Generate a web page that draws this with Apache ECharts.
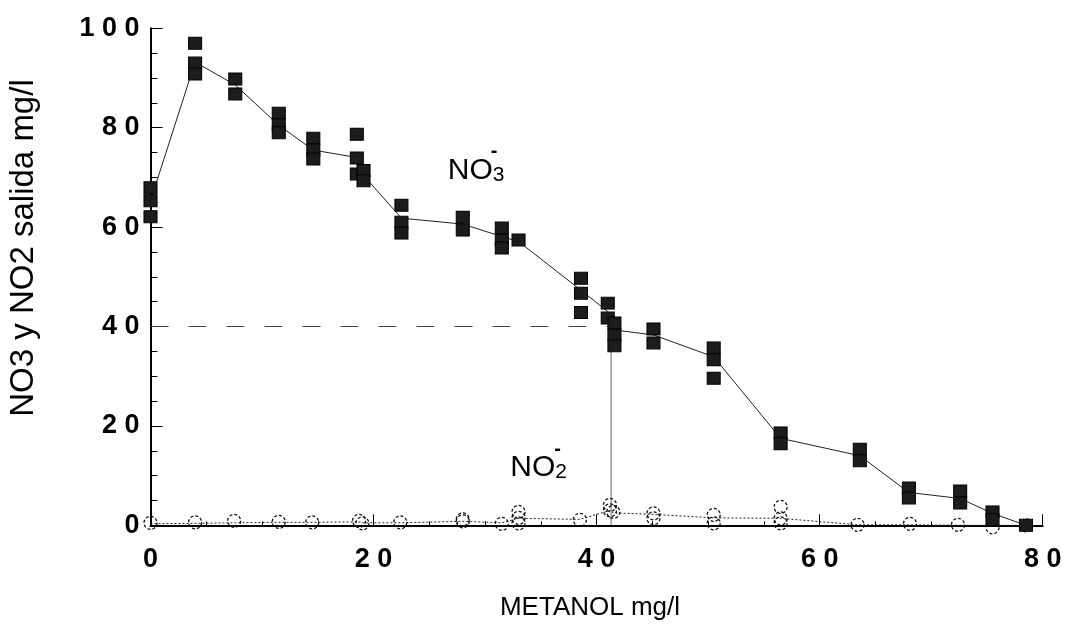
<!DOCTYPE html>
<html>
<head>
<meta charset="utf-8">
<script src="https://cdn.jsdelivr.net/npm/echarts@6/dist/echarts.min.js"></script>
<style>html,body{margin:0;padding:0;background:#fff}#c{width:1069px;height:628px}</style>
</head>
<body>
<div id="c"></div>
<script>
// ---- data ----
const xTitle = 'METANOL mg/l';
const yTitle = 'NO3 y NO2 salida mg/l';

// NO3- replicates (squares)
const no3Dose = [0, 4, 7.6, 11.5, 14.6, 18.5, 19.1, 22.5, 28, 31.5, 33, 38.6, 41, 41.6, 45.1, 50.5, 56.5, 63.6, 68, 72.6, 75.5, 78.5];
const no3Rep = [
  [67.9, 65.3, 62.1], [97.0, 93.0, 90.8], [89.8, 86.8], [82.9, 80.6, 79.0], [77.9, 75.5, 73.7],
  [78.7, 73.9, 70.7], [71.4, 69.3], [64.4, 61.0, 58.8], [62.0, 59.4], [59.8, 57.4, 55.8],
  [57.4], [49.7, 46.7, 42.8], [44.7, 41.7], [40.7, 38.3, 36.1], [39.5, 36.7],
  [35.7, 33.3, 29.6], [18.6, 16.4], [15.3, 13.0], [7.5, 5.5], [6.9, 4.5], [2.7, 1.1], [0]
];
// NO3- connecting line
const no3Line = [65.3, 93.2, 88.6, 80.5, 75.5, 74.0, 70.4, 61.8, 60.6, 58.1, 57.1, 47.3, 43.0, 39.3, 38.3, 33.9, 17.5, 14.0, 6.6, 5.4, 2.4, 0];

// NO2- replicates (circles)
const no2Dose = [0, 4, 7.5, 11.5, 14.5, 18.7, 19.0, 22.4, 28, 31.5, 33, 38.5, 41.2, 41.5, 45.1, 50.5, 56.5, 63.4, 68.1, 72.4, 75.5, 78.5];
const no2Rep = [
  [0.5], [0.6], [0.9], [0.7], [0.6], [0.9], [0.4], [0.6], [1.2, 0.8], [0.3],
  [2.7, 1.5, 0.4], [1.1], [4.1, 3.0], [2.7], [2.4, 1.4], [2.1, 0.4], [3.7, 1.4, 0.4],
  [0.1], [0.3], [0.1], [-0.4], [0]
];
const no2Line = [0.3, 0.4, 0.5, 0.6, 0.6, 0.7, 0.5, 0.5, 0.8, 0.5, 1.4, 1.2, 3.0, 2.5, 2.2, 1.5, 1.4, 0.1, 0.1, 0, 0, 0];

// reference guide (40 mg/l NO3 at ~41 mg/l methanol)
const guideH = [[0, 40], [41.3, 40]];
const guideV = [[41.3, 40], [41.3, 0]];

// in-plot labels
const labelNO3 = {x: 29.2, y: 71.3, minus: [30.8, 75.3], main: 'NO', sub: '3'};
const labelNO2 = {x: 34.8, y: 11.6, minus: [36.5, 15.3], main: 'NO', sub: '2'};

const xMin = 0, xMax = 80, xStep = 20;
const yMin = 0, yMax = 100, yStep = 20;

// ---- build ----
function flatten(dose, reps) {
  const out = [];
  dose.forEach((d, i) => reps[i].forEach(v => out.push([d, v])));
  return out;
}
const spaced = v => String(v).split('').join(' ');

const chart = echarts.init(document.getElementById('c'), null, {renderer: 'canvas'});
const labelFont = "'Liberation Sans Narrow', Arial, 'Liberation Sans', sans-serif";

function annot(l) {
  return {
    type: 'scatter', symbolSize: 0, silent: true, z: 20,
    itemStyle: {opacity: 1},
    data: [[l.x, l.y]],
    label: {
      show: true, position: 'inside', color: '#000', opacity: 1,
      formatter: '{n|' + l.main + '}{s|' + l.sub + '}',
      rich: {
        n: {fontFamily: labelFont, fontSize: 30, color: '#000', lineHeight: 30, verticalAlign: 'bottom'},
        s: {fontFamily: labelFont, fontSize: 21, color: '#000', lineHeight: 24, verticalAlign: 'bottom'}
      }
    }
  };
}
function minus(l) {
  return {
    type: 'scatter', symbolSize: 0, silent: true, z: 20,
    itemStyle: {opacity: 1},
    data: [l.minus],
    label: {show: true, position: 'inside', formatter: '-', fontFamily: 'Arial', fontWeight: 'bold', fontSize: 20, color: '#000', opacity: 1}
  };
}

const option = {
  animation: false,
  backgroundColor: '#fff',
  grid: {left: 150.5, right: 26.3, top: 28.3, bottom: 102.7, containLabel: false},
  xAxis: {
    type: 'value', min: xMin, max: xMax, interval: xStep,
    axisLine: {show: true, lineStyle: {color: '#000', width: 2}},
    axisTick: {show: true, inside: true, length: 11, lineStyle: {color: '#000', width: 1}},
    minorTick: {show: true, splitNumber: 4, length: 4, lineStyle: {color: '#000', width: 1}},
    splitLine: {show: false},
    axisLabel: {formatter: spaced, fontFamily: 'Arial', fontWeight: 'bold', fontSize: 27, color: '#000', margin: 21}
  },
  yAxis: {
    type: 'value', min: yMin, max: yMax, interval: yStep,
    axisLine: {show: true, lineStyle: {color: '#000', width: 2}},
    axisTick: {show: true, inside: true, length: 12, lineStyle: {color: '#000', width: 1}},
    minorTick: {show: true, splitNumber: 4, length: 7, lineStyle: {color: '#000', width: 1}},
    splitLine: {show: false},
    axisLabel: {formatter: spaced, fontFamily: 'Arial', fontWeight: 'bold', fontSize: 27, color: '#000', margin: 11}
  },
  graphic: [
    {type: 'text', x: 24, y: 248, rotation: Math.PI / 2,
     style: {text: yTitle, font: '33px Arial', fill: '#000', textAlign: 'center', textVerticalAlign: 'middle'}},
    {type: 'text', x: 590, y: 608,
     style: {text: xTitle, font: '26px Arial', fill: '#000', textAlign: 'center', textVerticalAlign: 'middle'}}
  ],
  series: [
    {type: 'line', data: guideH, symbol: 'none', silent: true, z: 1,
     lineStyle: {color: '#444', width: 1, type: [18, 20]}},
    {type: 'line', data: guideV, symbol: 'none', silent: true, z: 1,
     lineStyle: {color: '#666', width: 1}},
    {type: 'line', data: no2Dose.map((d, i) => [d, no2Line[i]]), symbol: 'none', clip: false, z: 2,
     lineStyle: {color: '#222', width: 1, type: [2, 2]}},
    {type: 'scatter', data: flatten(no2Dose, no2Rep), symbol: 'circle', symbolSize: 13, clip: false, z: 3,
     itemStyle: {color: 'rgba(255,255,255,0)', borderColor: '#111', borderWidth: 1.3, borderType: [3, 2], opacity: 1}},
    {type: 'line', data: no3Dose.map((d, i) => [d, no3Line[i]]), symbol: 'none', clip: false, z: 4,
     lineStyle: {color: '#222', width: 1}},
    {type: 'scatter', data: flatten(no3Dose, no3Rep), symbol: 'rect', symbolSize: [13, 12], clip: false, z: 5,
     itemStyle: {color: '#1c1c1c', borderColor: '#000', borderWidth: 1, opacity: 1}},
    annot(labelNO3), minus(labelNO3),
    annot(labelNO2), minus(labelNO2)
  ]
};
chart.setOption(option);
</script>
</body>
</html>
